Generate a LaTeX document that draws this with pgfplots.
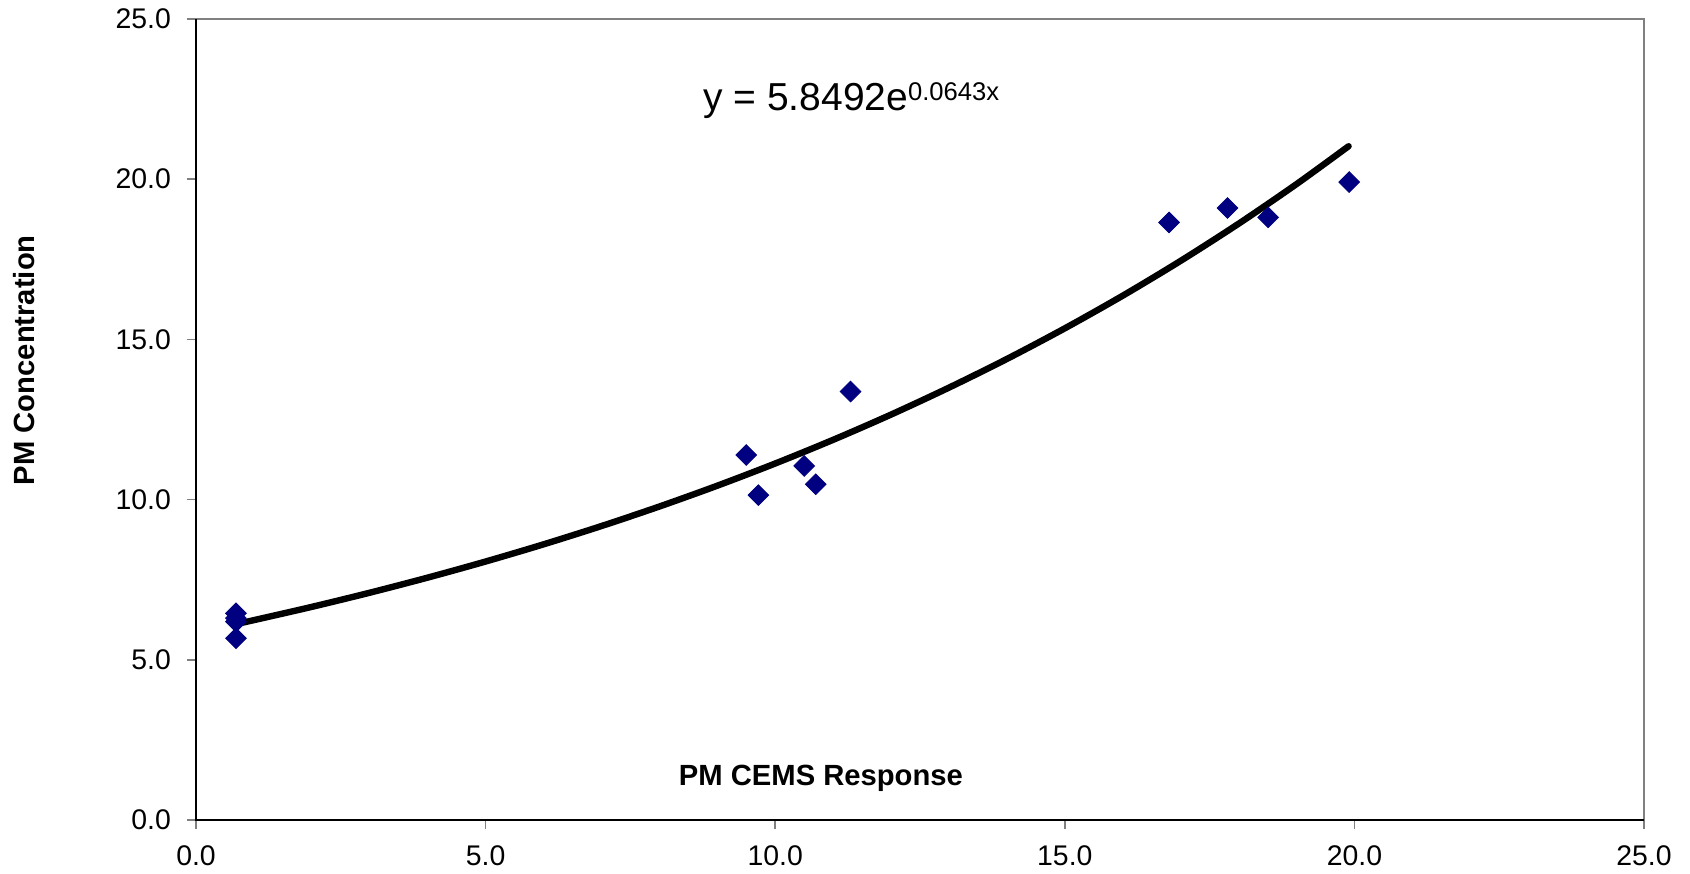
\documentclass[border=0pt]{standalone}
\usepackage{fontspec}
\setmainfont{Liberation Sans}
\usepackage{pgfplots}
\pgfplotsset{compat=1.18}
\definecolor{navy}{RGB}{0,0,128}
\definecolor{frame}{RGB}{128,128,128}
\begin{document}
\begin{tikzpicture}
\begin{axis}[
  name=ax,
  scale only axis,
  width=724pt, height=400.5pt,
  xmin=0, xmax=25, ymin=0, ymax=25,
  xtick={0,5,...,25}, ytick={0,5,...,25},
  tick pos=left,
  tick align=outside,
  major tick length=4.5pt,
  tick style={frame, line width=0.8pt},
  axis line style={frame, line width=1pt},
  /pgf/number format/assume math mode=true,
  /pgf/number format/.cd, fixed, fixed zerofill, precision=1,
  /pgfplots/.cd,
  ticklabel style={font=\fontsize{14.2}{16}\selectfont},
  xticklabel style={yshift=-5pt},
  yticklabel style={xshift=-4.5pt},
  xlabel={PM CEMS Response},
  ylabel={PM Concentration},
  xlabel style={at={(axis description cs:0.4316,0.0524)}, anchor=center, font=\fontsize{14.6}{16}\selectfont\bfseries},
  ylabel style={at={(axis description cs:-0.119,0.574)}, anchor=center, font=\fontsize{14.6}{16}\selectfont\bfseries},
  clip=false,
]
\addplot[black, line width=3.2pt, line cap=round, smooth] coordinates {
(0.7,6.1185) (1,6.2376) (2,6.6519) (3,7.0936) (4,7.5647) (5,8.0671)
(6,8.6029) (7,9.1744) (8,9.7835) (9,10.4333) (10,11.126) (11,11.865)
(12,12.653) (13,13.494) (14,14.389) (15,15.345) (16,16.364) (17,17.451)
(18,18.610) (19,19.846) (19.9,21.029)
};
\addplot[only marks, mark=square*, mark size=3.65pt, mark options={rotate=45, fill=navy, draw=navy}] coordinates {
(0.69,6.45) (0.69,6.3) (0.69,6.19) (0.69,5.67)
(9.50,11.39) (9.71,10.14) (10.50,11.05) (10.70,10.48) (11.30,13.37)
(16.80,18.65) (17.81,19.10) (18.51,18.81) (19.91,19.91)
};
\node[anchor=west, inner sep=0pt] at (axis cs:8.75,22.45) {\fontsize{19.5}{22}\selectfont y = 5.8492e\raisebox{5.2pt}{\fontsize{12.8}{14}\selectfont 0.0643x}};
\draw[black, line width=1pt] (rel axis cs:0,1) -- (rel axis cs:0,0) -- (rel axis cs:1,0);
\end{axis}
\pgfresetboundingbox
\path (ax.south west) ++(-98pt,-27pt) coordinate (bbsw);
\path (ax.north east) ++(23pt,9.5pt) coordinate (bbne);
\path (bbsw) rectangle (bbne);
\end{tikzpicture}
\end{document}
